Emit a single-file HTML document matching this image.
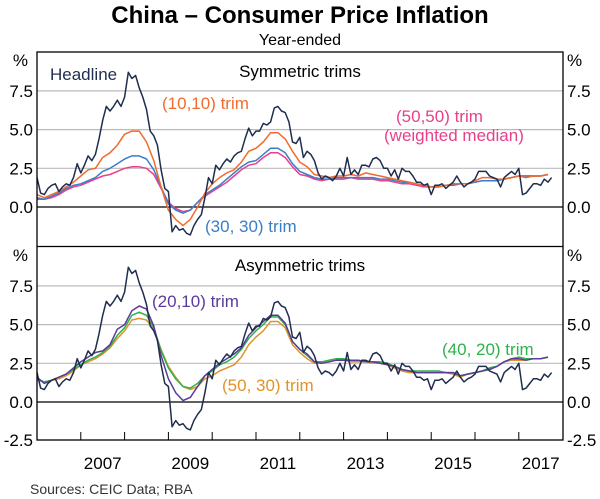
<!DOCTYPE html>
<html><head><meta charset="utf-8"><style>
body{margin:0;background:#fff}
svg{display:block;font-family:"Liberation Sans",Arial,sans-serif}
</style></head><body>
<svg id="c" width="600" height="499" viewBox="0 0 600 499">
<text x="300" y="23" text-anchor="middle" font-size="24" font-weight="bold">China – Consumer Price Inflation</text>
<text x="300" y="45" text-anchor="middle" font-size="16">Year-ended</text>
<g id="grid"></g><g id="series"></g><g id="axes"></g>
<text x="300" y="77" text-anchor="middle" font-size="17">Symmetric trims</text>
<text x="300" y="271" text-anchor="middle" font-size="17">Asymmetric trims</text>
<text x="50" y="80" font-size="17" fill="#1f2d4f">Headline</text>
<text x="162" y="109" font-size="17" fill="#f26b2b">(10,10) trim</text>
<text x="205" y="232" font-size="17" fill="#3a7dc9">(30, 30) trim</text>
<text x="396" y="122" font-size="17" fill="#e8408a">(50,50) trim</text>
<text x="384" y="141" font-size="17" fill="#e8408a">(weighted median)</text>
<text x="152" y="307" font-size="17" fill="#5b3a9c">(20,10) trim</text>
<text x="222" y="391" font-size="17" fill="#e0932b">(50, 30) trim</text>
<text x="442" y="355" font-size="17" fill="#2db34a">(40, 20) trim</text>
<text x="30" y="494" font-size="14" fill="#333">Sources: CEIC Data; RBA</text>
</svg>
<script>
const years=["2007","2009","2011","2013","2015","2017"];
const yTicks=[0,2.5,5,7.5];
const yTickLabels=["0.0","2.5","5.0","7.5"];
const headline=[1.9,0.9,0.8,1.2,1.4,1.5,1.0,1.3,1.5,1.4,1.9,2.8,
2.2,2.7,3.3,3.0,3.4,4.4,5.6,6.5,6.2,6.5,6.9,6.5,
7.1,8.7,8.3,8.5,7.7,7.1,6.3,4.9,4.6,4.0,2.4,1.2,
1.0,-1.6,-1.2,-1.5,-1.4,-1.7,-1.8,-1.2,-0.8,-0.5,0.6,1.9,
1.5,2.7,2.4,2.8,3.1,2.9,3.3,3.5,3.6,4.4,5.1,4.6,
4.9,4.9,5.4,5.3,5.5,6.4,6.5,6.2,6.1,5.5,4.2,4.1,
4.5,3.2,3.6,3.4,3.0,2.2,1.8,2.0,1.9,1.7,2.0,2.5,
2.0,3.2,2.1,2.4,2.1,2.7,2.7,2.6,3.1,3.2,3.0,2.5,
2.5,2.0,2.4,1.8,2.5,2.3,2.3,2.0,1.6,1.6,1.4,1.5,
0.8,1.4,1.4,1.5,1.2,1.4,1.6,2.0,1.6,1.3,1.5,1.6,
1.8,2.3,2.3,2.3,2.0,1.9,1.8,1.3,1.9,2.1,2.3,2.1,
2.5,0.8,0.9,1.2,1.5,1.5,1.4,1.8,1.6,1.9];
const trim1010=[0.8,0.6,0.8,1.0,1.3,1.6,2.0,2.4,2.5,3.2,3.5,4.0,4.7,4.9,4.9,4.2,3.0,1.3,-0.2,-0.8,-1.2,-0.8,0.0,0.9,1.5,1.9,2.2,2.4,2.9,3.6,3.8,4.2,4.8,4.8,4.4,3.6,2.9,2.6,2.1,2.0,1.9,2.0,2.0,2.1,2.0,2.2,2.1,2.0,1.9,1.8,1.7,1.6,1.5,1.4,1.3,1.3,1.4,1.5,1.5,1.5,1.7,1.9,1.9,1.8,1.8,1.9,2.0,1.9,2.0,2.0,2.1];
const trim3030=[0.6,0.5,0.7,0.9,1.2,1.4,1.5,1.7,1.9,2.3,2.5,2.8,3.1,3.3,3.3,3.1,2.4,1.3,0.2,-0.2,-0.4,-0.2,0.3,0.8,1.1,1.4,1.8,2.2,2.6,2.9,3.0,3.4,3.8,3.8,3.5,2.8,2.3,2.1,1.9,1.8,1.8,1.9,1.9,1.9,1.9,1.9,1.9,1.8,1.8,1.7,1.6,1.6,1.5,1.4,1.3,1.3,1.4,1.4,1.5,1.5,1.6,1.7,1.7,1.7,1.8,1.9,2.0,2.0,2.0,2.0,2.1];
const trim5050=[0.5,0.5,0.6,0.8,1.1,1.3,1.4,1.6,1.8,2.0,2.1,2.3,2.5,2.6,2.6,2.5,2.1,1.2,0.3,-0.1,-0.3,-0.2,0.3,0.7,1.0,1.3,1.6,2.0,2.4,2.7,2.8,3.2,3.5,3.5,3.2,2.6,2.1,2.0,1.8,1.7,1.8,1.8,1.8,1.9,1.8,1.8,1.8,1.7,1.7,1.6,1.5,1.5,1.4,1.3,1.3,1.3,1.4,1.4,1.5,1.5,1.6,1.7,1.7,1.7,1.8,1.9,2.0,2.0,2.0,2.0,2.1];
const trim2010=[1.6,1.2,1.4,1.6,1.8,2.2,2.6,2.9,3.2,3.3,3.7,4.7,5.0,5.9,6.2,6.0,4.9,3.0,1.5,0.6,0.1,0.3,1.0,1.7,2.1,2.5,2.8,3.1,3.5,4.3,4.8,5.2,5.6,5.6,5.1,3.9,3.4,3.1,2.6,2.5,2.6,2.7,2.7,2.7,2.7,2.6,2.6,2.5,2.4,2.3,2.1,2.0,1.9,1.9,1.9,1.9,1.9,1.9,1.7,1.8,1.9,2.0,2.1,2.3,2.6,2.8,2.8,2.7,2.8,2.8,2.9];
const trim4020=[1.5,1.3,1.4,1.6,1.8,2.1,2.4,2.7,2.9,3.2,3.6,4.3,4.8,5.6,5.8,5.6,4.8,3.3,2.2,1.5,1.0,0.9,1.2,1.7,2.0,2.4,2.6,2.9,3.4,4.1,4.6,5.0,5.5,5.5,5.0,3.9,3.4,3.0,2.6,2.6,2.7,2.8,2.8,2.7,2.7,2.6,2.6,2.6,2.5,2.3,2.1,2.0,2.0,2.0,2.0,2.0,1.9,1.9,1.7,1.8,1.9,2.0,2.2,2.3,2.6,2.8,2.9,2.8,2.8,2.8,2.9];
const trim5030=[1.4,1.3,1.4,1.5,1.7,2.0,2.4,2.6,2.8,3.1,3.5,4.1,4.6,5.3,5.4,5.3,4.7,3.4,2.3,1.6,1.0,0.8,1.0,1.5,1.7,2.0,2.2,2.4,2.9,3.7,4.2,4.6,5.2,5.2,4.8,3.7,3.2,2.8,2.5,2.5,2.6,2.7,2.7,2.6,2.6,2.6,2.5,2.5,2.4,2.2,2.0,1.9,1.9,1.9,1.9,1.9,1.9,1.8,1.6,1.8,1.9,2.0,2.2,2.3,2.6,2.7,2.7,2.7,2.8,2.8,2.9];

const NS="http://www.w3.org/2000/svg";
const L=37,R=563,pxYear=43.8;
const x=m=>L+m/12*pxYear;
const panels=[{zero:207,top:52,bot:246},{zero:402,top:247,bot:440}];
const yOf=(p,v)=>panels[p].zero-v*15.48;
function mk(tag,attrs,parent){const e=document.createElementNS(NS,tag);for(const k in attrs)e.setAttribute(k,attrs[k]);parent.appendChild(e);return e;}
const grid=document.getElementById('grid'),axes=document.getElementById('axes'),ser=document.getElementById('series');
panels.forEach((pn,pi)=>{
  yTicks.forEach((t,i)=>{
    const y=yOf(pi,t);
    const ln=mk('line',{x1:L,x2:R,y1:y,y2:y,stroke:t===0?'#000':'#bbb','stroke-width':1.2},grid);
    
    
    const a=mk('text',{x:33,y:y+6,'text-anchor':'end','font-size':17},axes);a.textContent=yTickLabels[i];
    
    
    const b=mk('text',{x:567,y:y+6,'font-size':17},axes);b.textContent=yTickLabels[i];
    
    
  });
  const p1=mk('text',{x:28,y:pn.top+14,'text-anchor':'end','font-size':17},axes);p1.textContent='%';
  
  
  const p2=mk('text',{x:567,y:pn.top+14,'font-size':17},axes);p2.textContent='%';
  
  
});
[["-2.5",33,'end'],["-2.5",567,'start']].forEach(d=>{const t=mk('text',{x:d[1],y:446,'text-anchor':d[2],'font-size':17},axes);t.textContent=d[0];

});
const frame=mk('rect',{x:L,y:52,width:R-L,height:388,fill:'none',stroke:'#000','stroke-width':1.3},axes);


const div=mk('line',{x1:L,x2:R,y1:246.5,y2:246.5,stroke:'#000','stroke-width':1.3},axes);


for(let yr=1;yr<12;yr++){const tk=mk('line',{x1:x(yr*12),x2:x(yr*12),y1:432,y2:440,stroke:'#000','stroke-width':1},axes);

}
years.forEach((y,i)=>{const t=mk('text',{x:x((1+2*i)*12+6),y:469,'text-anchor':'middle','font-size':17},axes);t.textContent=y;

});
function line(p,vals,step,color,name,w){
  const d=vals.map((v,i)=>(i?'L':'M')+x(i*step).toFixed(1)+','+yOf(p,v).toFixed(1)).join('');
  const e=mk('path',{d:d,fill:'none',stroke:color,'stroke-width':w||1.5,'stroke-linejoin':'round'},ser);
  
  
}
line(0,trim5050,2,'#e8408a','trim-50-50-line');
line(0,trim3030,2,'#3a7dc9','trim-30-30-line');
line(0,trim1010,2,'#f26b2b','trim-10-10-line');
line(0,headline,1,'#1f2d4f','headline-line-top');
line(1,trim5030,2,'#e0932b','trim-50-30-line');
line(1,trim4020,2,'#2db34a','trim-40-20-line');
line(1,trim2010,2,'#5b3a9c','trim-20-10-line');
line(1,headline,1,'#1f2d4f','headline-line-bottom');
</script>
</body></html>
